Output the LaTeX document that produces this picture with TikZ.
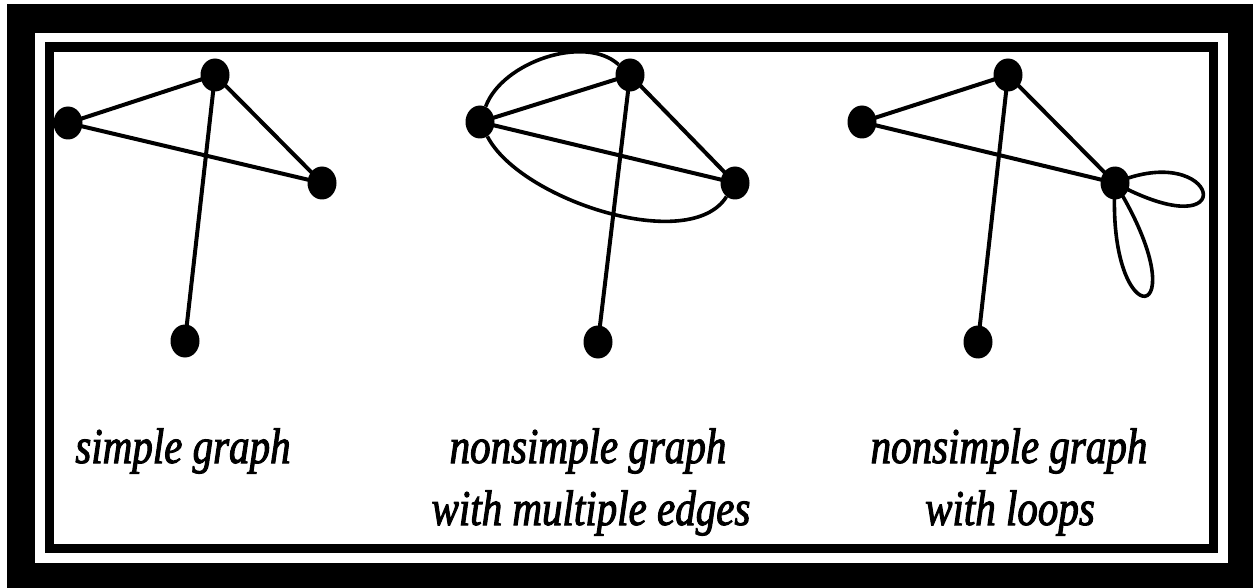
\documentclass[tikz,border=0pt]{standalone}
\usepackage{fontspec}
\usetikzlibrary{shapes.geometric}
\newfontfamily\capfont[FakeStretch=0.82,FakeBold=2]{Liberation Serif}
\begin{document}
\begin{tikzpicture}[x=1pt,y=-1pt,
  vert/.style={ellipse,fill=black,minimum width=29pt,minimum height=33pt,inner sep=0pt},
  edge/.style={line width=4pt},
  arc/.style={line width=3.6pt},
  caption/.style={anchor=base,inner sep=0pt,font=\capfont\itshape\fontsize{50}{60}\selectfont}]
\useasboundingbox (0,0) rectangle (1253,588);
% frame
\fill[white] (0,0) rectangle (1253,588);
\fill[black] (7,4) rectangle (1253,588);
\fill[white] (35,33) rectangle (1228,563);
\fill[black] (45,42) rectangle (1218,553);
\fill[white] (54,52) rectangle (1209,544);
% simple graph
\node[vert] (a1) at (215,75) {};
\node[vert] (b1) at (68,123) {};
\node[vert] (c1) at (322,183) {};
\node[vert] (d1) at (185,341) {};
\draw[edge] (a1.center) -- (b1.center) -- (c1.center) -- (a1.center) -- (d1.center);
% multiple edges
\node[vert] (a2) at (630,75) {};
\node[vert] (b2) at (480,122) {};
\node[vert] (c2) at (735,183) {};
\node[vert] (d2) at (598,342) {};
\draw[edge] (a2.center) -- (b2.center) -- (c2.center) -- (a2.center) -- (d2.center);
\draw[arc] (b2) .. controls (502,62) and (585,34) .. (a2);
\draw[arc] (b2) .. controls (520,200) and (690,255) .. (c2);
% loops
\node[vert] (a3) at (1008,75) {};
\node[vert] (b3) at (862,122) {};
\node[vert] (c3) at (1115,183) {};
\node[vert] (d3) at (978,342) {};
\draw[edge] (a3.center) -- (b3.center) -- (c3.center) -- (a3.center) -- (d3.center);
\draw[arc] (c3.center) .. controls (1220,138) and (1245,253) .. (c3.center);
\draw[arc] (c3.center) .. controls (1106,340) and (1204,328) .. (c3.center);
% captions
\node[caption] (t1) at (183,463) {simple graph};
\node[caption] (t2) at (588,463) {nonsimple graph};
\node[caption] (t3) at (591,525) {with multiple edges};
\node[caption] (t4) at (1009,463) {nonsimple graph};
\node[caption] (t5) at (1010,525) {with loops};
\end{tikzpicture}
\end{document}
